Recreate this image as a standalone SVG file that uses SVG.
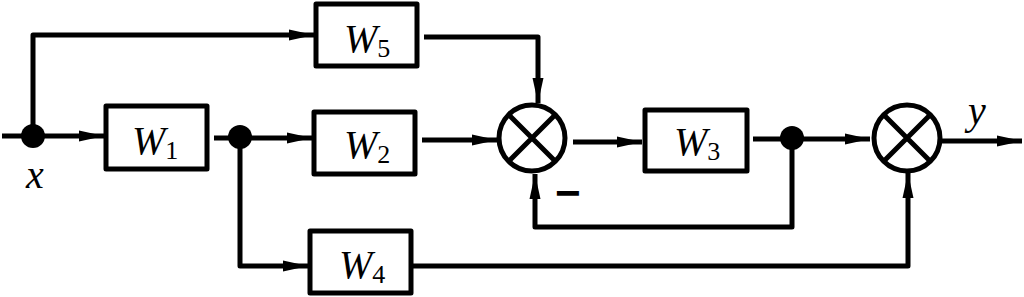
<svg xmlns="http://www.w3.org/2000/svg" width="1024" height="297" viewBox="0 0 1024 297">
<defs>
<marker id="arr" markerUnits="userSpaceOnUse" markerWidth="26" markerHeight="12" refX="25" refY="6" orient="auto">
<path d="M0,0.5 L25,6 L0,11.5 z" fill="#000"/>
</marker>
<style>
.box{fill:#fff;stroke:#000;stroke-width:5;stroke-linejoin:round}
.ln{fill:none;stroke:#000;stroke-width:5;stroke-linejoin:round}
.sum{fill:#fff;stroke:#000;stroke-width:5}
.lbl{font-family:"Liberation Serif","DejaVu Serif",serif;font-size:40px;fill:#000}
.it{font-style:italic}
.sub{font-size:26px}
</style>
</defs>
<rect width="1024" height="297" fill="#fff"/>
<g id="connectors">
<path class="ln" d="M2,136 H104" marker-end="url(#arr)"/>
<path class="ln" d="M33,136 V35 H314" marker-end="url(#arr)"/>
<path class="ln" d="M214,138 H312" marker-end="url(#arr)"/>
<path class="ln" d="M424,37 H538 V103" marker-end="url(#arr)"/>
<path class="ln" d="M422,140 H497" marker-end="url(#arr)"/>
<path class="ln" d="M573,142 H642" marker-end="url(#arr)"/>
<path class="ln" d="M753,139 H870" marker-end="url(#arr)"/>
<path class="ln" d="M792,139 V227 H535 V174" marker-end="url(#arr)"/>
<path class="ln" d="M240,137 V266 H308" marker-end="url(#arr)"/>
<path class="ln" d="M413,266 H908 V173" marker-end="url(#arr)"/>
<path class="ln" d="M942,141 H1022" marker-end="url(#arr)"/>
</g>
<g id="junctions">
<circle cx="33" cy="136" r="12" fill="#000"/>
<circle cx="240" cy="137" r="12" fill="#000"/>
<circle cx="792" cy="138" r="12" fill="#000"/>
</g>
<g id="W1">
<rect class="box" x="106" y="106" width="101" height="63"/>
<text class="lbl" x="132" y="154"><tspan class="it">W</tspan><tspan class="sub" dy="5">1</tspan></text>
</g>
<g id="W5">
<rect class="box" x="316" y="4" width="101" height="62"/>
<text class="lbl" x="344" y="52"><tspan class="it">W</tspan><tspan class="sub" dy="5">5</tspan></text>
</g>
<g id="W2">
<rect class="box" x="314" y="112" width="101" height="62"/>
<text class="lbl" x="344" y="158"><tspan class="it">W</tspan><tspan class="sub" dy="5">2</tspan></text>
</g>
<g id="W3">
<rect class="box" x="645" y="110" width="102" height="61"/>
<text class="lbl" x="674" y="155"><tspan class="it">W</tspan><tspan class="sub" dy="5">3</tspan></text>
</g>
<g id="W4">
<rect class="box" x="310" y="231" width="101" height="62"/>
<text class="lbl" x="339" y="278"><tspan class="it">W</tspan><tspan class="sub" dy="5">4</tspan></text>
</g>
<g id="sum1">
<circle class="sum" cx="532" cy="138" r="33"/>
<path class="ln" d="M509,115 L555,161 M555,115 L509,161"/>
</g>
<g id="sum2">
<circle class="sum" cx="907" cy="138" r="33"/>
<path class="ln" d="M884,115 L930,161 M930,115 L884,161"/>
</g>
<g id="labels">
<text class="lbl it" x="26" y="188">x</text>
<text class="lbl it" x="968" y="124">y</text>
<text x="555" y="208" font-family="Liberation Sans, sans-serif" font-size="44" font-weight="bold">−</text>
</g>
</svg>
